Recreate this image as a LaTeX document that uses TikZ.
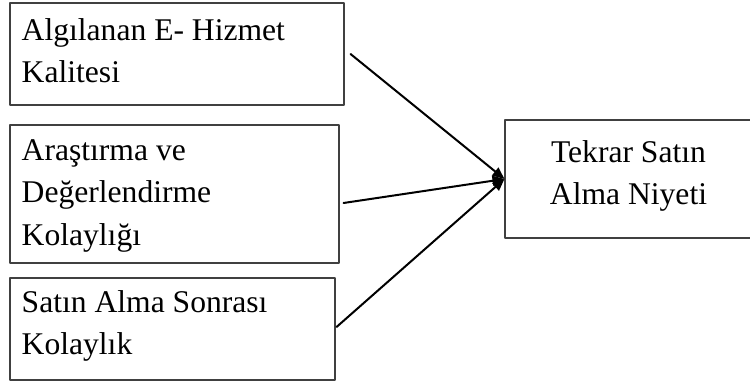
\documentclass[tikz,border=0pt]{standalone}
\usepackage{fontspec}
\setmainfont{Liberation Serif}
\usetikzlibrary{calc,fit,arrows.meta}

\begin{document}
\begin{tikzpicture}[x=.75pt,y=-.75pt,line cap=round,line join=round,
  font=\fontsize{23.7}{27.75}\selectfont,
  kutu/.style={draw=black!75,line width=.8pt,inner sep=0pt},
  yazi/.style={inner sep=0pt,anchor=north west,align=left,
    execute at begin node=\rule{0pt}{18pt}},
  ok/.style={line width=1.5pt,-{Triangle[length=9pt,width=7.5pt]}}]
  \path[use as bounding box] (0,0) rectangle (750,385);
  % kutular
  \node[kutu,fit={(10,3) (344,105)}] (algi) {};
  \node[kutu,fit={(10,125) (339,263)}] (aras) {};
  \node[kutu,fit={(10,278) (335,380)}] (sonra) {};
  \node[kutu,fit={(505,120) (752,238)}] (niyet) {};
  % metinler
  \node[yazi] (algiT) at ($(algi.north west)+(12,16)$) {Algılanan E- Hizmet\\[4pt]Kalitesi};
  \node[yazi] (arasT) at ($(aras.north west)+(12,15)$) {Araştırma ve\\[4pt]Değerlendirme\\[4pt]Kolaylığı};
  \node[yazi] (sonraT) at ($(sonra.north west)+(12,13)$) {Satın Alma Sonrası\\[4pt]Kolaylık};
  \node[yazi,anchor=north,align=center] (niyetT) at ($(niyet.north)+(0,21)$) {Tekrar Satın\\[4pt]Alma Niyeti};
  % oklar
  \draw[ok] ($(algi.east)+(6,0)$) -- (niyet.west);
  \draw[ok] ($(aras.east)+(4,9)$) -- (niyet.west);
  \draw[ok] ($(sonra.east)+(1,-2)$) -- (niyet.west);
\end{tikzpicture}
\end{document}
